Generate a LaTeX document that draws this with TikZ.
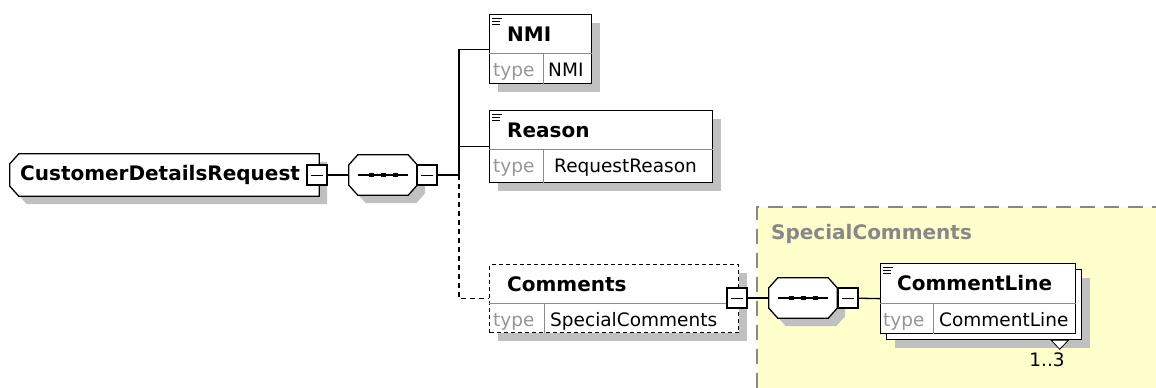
\documentclass[tikz,border=0pt]{standalone}
\usepackage{fontspec}
\setmainfont{DejaVu Sans}
\usetikzlibrary{shadows}

\definecolor{xsdyellow}{RGB}{255,255,204}
\definecolor{xsdgray}{RGB}{136,136,136}
\definecolor{keygray}{RGB}{150,150,150}
\definecolor{shadowgray}{RGB}{192,192,192}

% outline of a compositor / root box, cut at the corners
\newcommand{\octoutline}[3]{([shift={(#2,0)}]#1.north west) -- ([shift={(-#2,0)}]#1.north east)
  -- ([shift={(0,#3)}]#1.north east) -- ([shift={(0,-#3)}]#1.south east)
  -- ([shift={(-#2,0)}]#1.south east) -- ([shift={(#2,0)}]#1.south west)
  -- ([shift={(0,-#3)}]#1.south west) -- ([shift={(0,#3)}]#1.north west) -- cycle}
\newcommand{\rootoutline}[3]{([shift={(#2,0)}]#1.north west) -- (#1.north east)
  -- (#1.south east) -- ([shift={(#2,0)}]#1.south west)
  -- ([shift={(0,-#3)}]#1.south west) -- ([shift={(0,#3)}]#1.north west) -- cycle}

\tikzset{
  dropshd/.style={drop shadow={shadow xshift=8pt,shadow yshift=-8pt,fill=shadowgray,opacity=1}},
  shd/.style={fill=shadowgray,transform canvas={shift={(8,8)}}},
  elem/.style={draw,line width=1.3pt,fill=white,anchor=north west,inner sep=0pt},
  elemname/.style={font=\fontsize{20}{24}\selectfont\bfseries,anchor=west,inner sep=0pt},
  typekey/.style={font=\fontsize{18.5}{22}\selectfont,text=keygray,anchor=base west,inner sep=0pt},
  typeval/.style={font=\fontsize{18.5}{22}\selectfont,anchor=base west,inner sep=0pt},
  divline/.style={black!45,line width=1pt},
  iconline/.style={line width=0.9pt},
  link/.style={line width=1.3pt},
  outline/.style={draw,line width=1.3pt,fill=white},
  minusbox/.style={draw,line width=1.3pt,fill=white,minimum size=20pt,inner sep=0pt,
    path picture={\draw[line width=1pt] ([xshift=-6pt]path picture bounding box.center)
      -- ([xshift=6pt]path picture bounding box.center);}},
  seqbox/.style={minimum width=68pt,minimum height=40pt,inner sep=0pt},
}

\begin{document}
\begin{tikzpicture}[x=1pt,y=-1pt]
  \useasboundingbox (0,0) rectangle (1156,388);

  % complex type area
  \fill[xsdyellow] (757,207) rectangle (1156,388);
  \draw[xsdgray,line width=1.3pt,dash pattern=on 15pt off 9pt] (757,388) -- (757,207) -- (1156,207);
  \node[elemname,text=xsdgray] (sctitle) at (771,234) {SpecialComments};

  % root element and its sequence
  \node[minimum width=309pt,minimum height=42pt,inner sep=0pt] (root) at (164.5,175) {};
  \path[shd] \rootoutline{root}{9}{10};
  \path[outline] \rootoutline{root}{9}{10};
  \node[elemname] (roottitle) at (20,175) {CustomerDetailsRequest};
  \node[minusbox] (rootminus) at (317,175) {};
  \node[seqbox] (seq) at (383,175) {};
  \node[minusbox] (seqminus) at (427,175) {};
  \coordinate (trunk) at (459,175);

  % NMI
  \node[elem,dropshd,minimum width=102pt,minimum height=69pt] (nmi) at (489,14) {};
  \draw[divline] ([shift={(0,39)}]nmi.north west) -- ([shift={(0,39)}]nmi.north east);
  \draw[divline] ([shift={(54,39)}]nmi.north west) -- ([shift={(54,0)}]nmi.south west);
  \node[elemname] (nmititle) at ([shift={(18,20)}]nmi.north west) {NMI};
  \node[typekey] (nmikey) at ([shift={(4,62)}]nmi.north west) {type};
  \node[typeval] (nmival) at ([shift={(59,62)}]nmi.north west) {NMI};

  % Reason
  \node[elem,dropshd,minimum width=223pt,minimum height=72pt] (reason) at (489,110) {};
  \draw[divline] ([shift={(0,39)}]reason.north west) -- ([shift={(0,39)}]reason.north east);
  \draw[divline] ([shift={(54,39)}]reason.north west) -- ([shift={(54,0)}]reason.south west);
  \node[elemname] (reasontitle) at ([shift={(18,20)}]reason.north west) {Reason};
  \node[typekey] (reasonkey) at ([shift={(4,62)}]reason.north west) {type};
  \node[typeval] (reasonval) at ([shift={(65,62)}]reason.north west) {RequestReason};

  % Comments (optional)
  \node[elem,dropshd,dash pattern=on 4pt off 3pt,minimum width=249pt,minimum height=68pt] (comments) at (489,264) {};
  \draw[divline] ([shift={(0,39)}]comments.north west) -- ([shift={(0,39)}]comments.north east);
  \draw[divline] ([shift={(55,39)}]comments.north west) -- ([shift={(55,0)}]comments.south west);
  \node[elemname] (commentstitle) at ([shift={(18,20)}]comments.north west) {Comments};
  \node[typekey] (commentskey) at ([shift={(4,62)}]comments.north west) {type};
  \node[typeval] (commentsval) at ([shift={(61,62)}]comments.north west) {SpecialComments};
  \node[minusbox] (cmtminus) at (737,298) {};

  % sequence of SpecialComments
  \node[seqbox] (scseq) at (803,298) {};
  \node[minusbox] (scminus) at (848,298) {};

  % CommentLine, 1..3
  \node[elem,dropshd,minimum width=195pt,minimum height=70pt] (clback) at (886,269) {};
  \node[elem,minimum width=195pt,minimum height=70pt] (cl) at (880,263) {};
  \draw[divline] ([shift={(0,40)}]cl.north west) -- ([shift={(0,40)}]cl.north east);
  \draw[divline] ([shift={(53,40)}]cl.north west) -- ([shift={(53,0)}]cl.south west);
  \node[elemname] (cltitle) at ([shift={(17,20)}]cl.north west) {CommentLine};
  \node[typekey] (clkey) at ([shift={(3,63)}]cl.north west) {type};
  \node[typeval] (clval) at ([shift={(59,63)}]cl.north west) {CommentLine};
  \draw[line width=0.8pt,fill=white] ([shift={(-31,0)}]clback.south east) -- ++(17,0) -- ++(-8.5,9) -- cycle;
  \node[typeval,anchor=center] (clocc) at (1047,360) {1..3};

  % sequence marks and element icons
  \foreach \s in {seq,scseq} {
    \path[shd] \octoutline{\s}{9}{10};
    \path[outline] \octoutline{\s}{9}{10};
    \draw[link] ([shift={(-25,0)}]\s.center) -- ([shift={(25,0)}]\s.center);
    \foreach \dx in {-12,0,12}
      \fill ([shift={(\dx-2.5,-2)}]\s.center) rectangle ++(5,4);
  }
  \node[minusbox] at (seqminus) {};
  \node[minusbox] at (scminus) {};
  \foreach \e in {nmi,reason,cl} {
    \draw[iconline] ([shift={(3,4)}]\e.north west) -- ++(10,0);
    \draw[iconline] ([shift={(3,7)}]\e.north west) -- ++(8,0);
    \draw[iconline] ([shift={(3,10)}]\e.north west) -- ++(8,0);
  }

  % connectors
  \draw[link] (rootminus) -- (seq);
  \draw[link] (seqminus.east) -- (trunk);
  \draw[link] (trunk) |- (nmi.west);
  \draw[link] (trunk) |- (reason.west);
  \draw[link,dash pattern=on 5pt off 4pt] (trunk) |- (comments.west);
  \draw[link] (cmtminus) -- (scseq);
  \draw[link] (scminus) -- (cl.west);
\end{tikzpicture}
\end{document}
